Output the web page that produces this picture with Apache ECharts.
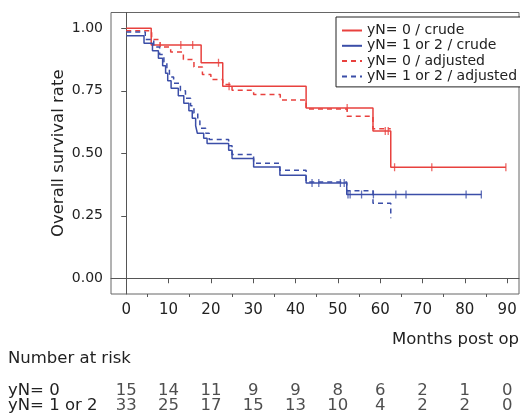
<!DOCTYPE html>
<html lang="en">
  <head>
    <meta charset="UTF-8" />
    <title>Overall survival by yN</title>
    <script src="https://cdn.jsdelivr.net/npm/echarts@6/dist/echarts.min.js"></script>
    <style>
      html, body { margin: 0; padding: 0; background: #fff; }
      #main { width: 520px; height: 417px; }
    </style>
  </head>
  <body>
    <div id="main"></div>
    <script>
      // KM steps: [month, survival after the drop]
      var yN0Crude = [[0, 1.0], [5.9, 0.933], [17.7, 0.862], [22.8, 0.768], [42.5, 0.681],
        [58.3, 0.589], [62.5, 0.444], [89.7, 0.444]];
      var yN12Crude = [[0, 0.97], [4.2, 0.94], [6.2, 0.91], [7.6, 0.88], [8.6, 0.85], [9.3, 0.82],
        [9.8, 0.79], [10.6, 0.76], [12.3, 0.73], [13.6, 0.70], [14.8, 0.67], [15.6, 0.64],
        [16.4, 0.61], [16.8, 0.58], [18.3, 0.56], [19.1, 0.539], [24.2, 0.512], [25.0, 0.479],
        [30.1, 0.445], [36.3, 0.412], [42.5, 0.381], [52.1, 0.335], [83.9, 0.335]];
      var yN0Adj = [[0, 0.99], [6.0, 0.955], [8.0, 0.925], [10.5, 0.905], [13.5, 0.875],
        [16.0, 0.845], [18.0, 0.815], [20.0, 0.795], [22.8, 0.775], [25.0, 0.752], [30.1, 0.735],
        [36.4, 0.713], [42.5, 0.677], [52.2, 0.648], [58.3, 0.598], [62.5, 0.598]];
      var yN12Adj = [[0, 0.985], [4.5, 0.955], [6.5, 0.925], [7.9, 0.895], [8.9, 0.865],
        [9.6, 0.835], [10.2, 0.805], [11.2, 0.78], [12.8, 0.75], [14.0, 0.72], [15.2, 0.69],
        [16.0, 0.66], [16.9, 0.63], [17.4, 0.60], [18.8, 0.58], [19.6, 0.555], [24.2, 0.53],
        [25.0, 0.495], [30.1, 0.46], [36.3, 0.432], [42.5, 0.385], [52.1, 0.35], [58.3, 0.30],
        [62.5, 0.24]];

      // censored observations (tick marks)
      var yN0Censor = [[12.9, 0.933], [15.7, 0.933], [21.8, 0.862], [24.3, 0.768], [52.2, 0.681],
        [61.2, 0.589], [61.9, 0.589], [63.4, 0.444], [72.2, 0.444], [89.7, 0.444]];
      var yN12Censor = [[43.9, 0.381], [45.5, 0.381], [50.6, 0.381], [51.5, 0.381], [52.4, 0.335],
        [52.9, 0.335], [55.6, 0.335], [58.4, 0.335], [63.7, 0.335], [66.1, 0.335], [80.3, 0.335],
        [83.9, 0.335]];

      var monthTicks = [0, 10, 20, 30, 40, 50, 60, 70, 80, 90];
      var minorTicks = [5, 15, 25, 35, 45, 55, 65, 75, 85];
      var rateTicks = [0, 0.25, 0.5, 0.75, 1];
      var riskGroups = ["yN= 0", "yN= 1 or 2"];
      var riskYN0 = [15, 14, 11, 9, 9, 8, 6, 2, 1, 0];
      var riskYN12 = [33, 25, 17, 15, 13, 10, 4, 2, 2, 0];

      var RED = "#e8413e";
      var BLUE = "#3b4ea8";
      var FONT = "DejaVu Sans";
      var TXT = "#222";
      var BIG = 16.5;

      var chart = echarts.init(document.getElementById("main"));

      function kmLine(name, data, color, dashed) {
        return {
          name: name,
          type: "line",
          step: "end",
          data: data,
          symbol: "none",
          animation: false,
          lineStyle: { color: color, width: 1.5, type: dashed ? [5, 4] : "solid" },
          itemStyle: { color: color },
        };
      }
      function censor(data, color) {
        return {
          type: "scatter",
          data: data,
          symbol: "rect",
          symbolSize: [1.3, 8],
          itemStyle: { color: color },
          animation: false,
          z: 3,
        };
      }
      function riskRow(group, counts) {
        return {
          type: "scatter",
          xAxisIndex: 2,
          yAxisIndex: 1,
          symbolSize: 1,
          itemStyle: { color: "rgba(0,0,0,0)" },
          data: monthTicks.map(function (m, i) { return [m, group, counts[i]]; }),
          label: {
            show: true,
            position: "inside",
            formatter: function (p) { return p.value[2]; },
            fontFamily: FONT,
            fontSize: BIG,
            color: TXT,
          },
          animation: false,
        };
      }

      var option = {
        backgroundColor: "#fff",
        title: [
          { text: "Months post op", right: 1, top: 331, padding: 0,
            textStyle: { fontFamily: FONT, fontSize: BIG, fontWeight: "normal", color: TXT } },
          { text: "Number at risk", left: 8, top: 350, padding: 0,
            textStyle: { fontFamily: FONT, fontSize: BIG, fontWeight: "normal", color: TXT } },
        ],
        legend: {
          data: ["yN= 0 / crude", "yN= 1 or 2 / crude", "yN= 0 / adjusted", "yN= 1 or 2 / adjusted"],
          orient: "vertical",
          left: 336,
          top: 17,
          padding: [6, 4, 3, 5],
          itemWidth: 20,
          itemHeight: 10,
          itemGap: 0.3,
          borderColor: "#222",
          borderWidth: 1,
          borderRadius: 0,
          backgroundColor: "#fff",
          itemStyle: { opacity: 0, borderWidth: 0 },
          textStyle: { fontFamily: FONT, fontSize: 14, lineHeight: 15, color: TXT },
        },
        grid: [
          { left: 111, right: 1, top: 12.5, bottom: 123, show: true, borderColor: "#666", borderWidth: 1 },
          { left: 111, right: 1, top: 383.5, bottom: 3.5 },
        ],
        xAxis: [
          {
            type: "value", gridIndex: 0, min: -3.6, max: 92.8, position: "bottom",
            axisLine: { show: true, lineStyle: { color: "#555" } },
            axisTick: { show: true, customValues: monthTicks, length: 5, lineStyle: { color: "#555" } },
            axisLabel: { customValues: monthTicks, margin: 9, fontFamily: FONT, fontSize: 15, color: TXT },
            splitLine: { show: false },
          },
          {
            type: "value", gridIndex: 0, min: -3.6, max: 92.8, position: "bottom",
            axisLine: { show: false },
            axisTick: { show: true, customValues: minorTicks, length: 3, lineStyle: { color: "#555" } },
            axisLabel: { show: false },
            splitLine: { show: false },
          },
          { type: "value", gridIndex: 1, min: -3.6, max: 92.8, show: false },
        ],
        yAxis: [
          {
            type: "value", gridIndex: 0, min: -0.063, max: 1.063,
            name: "Overall survival rate", nameLocation: "middle", nameGap: 44,
            nameMoveOverlap: false,
            nameTextStyle: { fontFamily: FONT, fontSize: BIG, color: TXT },
            axisLine: { show: true, lineStyle: { color: "#555" } },
            axisTick: { show: true, customValues: rateTicks, length: 5, lineStyle: { color: "#555" } },
            axisLabel: {
              customValues: rateTicks, margin: 8, fontFamily: FONT, fontSize: 14, color: TXT,
              formatter: function (v) { return v.toFixed(2); },
            },
            splitLine: { show: false },
          },
          {
            type: "category", gridIndex: 1, data: [riskGroups[1], riskGroups[0]],
            axisLine: { show: false }, axisTick: { show: false },
            axisLabel: { interval: 0, align: "left", margin: 103, fontFamily: FONT, fontSize: BIG, color: TXT },
          },
        ],
        series: [
          kmLine("yN= 0 / crude", yN0Crude, RED, false),
          kmLine("yN= 1 or 2 / crude", yN12Crude, BLUE, false),
          kmLine("yN= 0 / adjusted", yN0Adj, RED, true),
          kmLine("yN= 1 or 2 / adjusted", yN12Adj, BLUE, true),
          censor(yN0Censor, RED),
          censor(yN12Censor, BLUE),
          riskRow(riskGroups[0], riskYN0),
          riskRow(riskGroups[1], riskYN12),
        ],
      };

      chart.setOption(option);
    </script>
  </body>
</html>
